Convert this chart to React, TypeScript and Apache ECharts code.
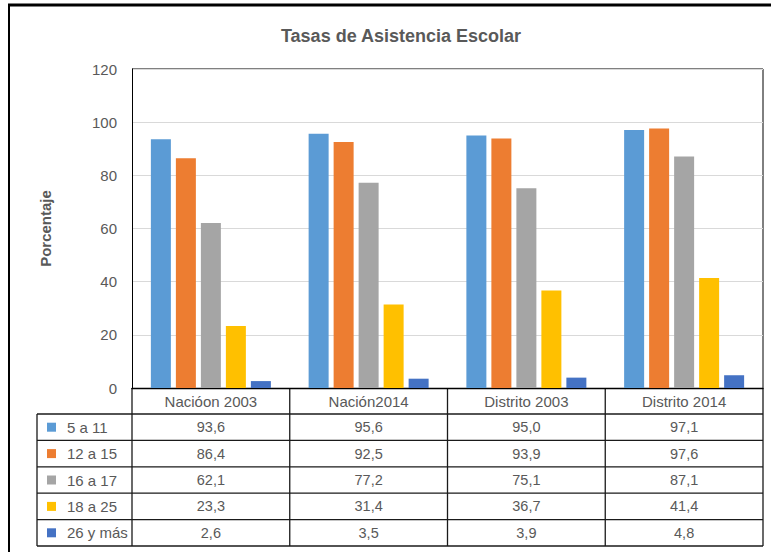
import React, { useEffect, useRef } from "react";
import * as echarts from "echarts";

const categories = ["Nacióon 2003", "Nación2014", "Distrito 2003", "Distrito 2014"];
const seriesNames = ["5 a 11", "12 a 15", "16 a 17", "18 a 25", "26 y más"];
const s5a11 = [93.6, 95.6, 95.0, 97.1];
const s12a15 = [86.4, 92.5, 93.9, 97.6];
const s16a17 = [62.1, 77.2, 75.1, 87.1];
const s18a25 = [23.3, 31.4, 36.7, 41.4];
const s26mas = [2.6, 3.5, 3.9, 4.8];
const seriesValues = [s5a11, s12a15, s16a17, s18a25, s26mas];
const colors = ["#5B9BD5", "#ED7D31", "#A5A5A5", "#FFC000", "#4472C4"];
const yTicks = [0, 20, 40, 60, 80, 100, 120];

const FONT = "'Liberation Sans', 'DejaVu Sans', sans-serif";
const TEXT = "#595959";

export default function App() {
  const ref = useRef<HTMLDivElement>(null);
  useEffect(() => {
    document.body.style.margin = "0";
    const chart = echarts.init(ref.current!, undefined, { renderer: "svg" });
    const gl = 132, gt = 69, gw = 631, gh = 319;
    const gr = gl + gw, gb = gt + gh;
    const tableLeft = 37;
    const headerBottom = 414;
    const rowH = 26.4;
    const tableBottom = headerBottom + rowH * seriesNames.length;
    const colW = gw / categories.length;
    const lineStyle = { stroke: "#1a1a1a", lineWidth: 1.3 };
    const g: any[] = [];
    // outer frame (partial, cropped)
    g.push({ type: "line", shape: { x1: 8, y1: 5, x2: 771, y2: 5 }, style: { stroke: "#000", lineWidth: 3 } });
    g.push({ type: "line", shape: { x1: 9, y1: 4, x2: 9, y2: 552 }, style: { stroke: "#000", lineWidth: 2 } });
    // plot border top & right
    g.push({ type: "line", shape: { x1: gl, y1: gt, x2: gr, y2: gt }, style: { stroke: "#000", lineWidth: 1 } });
    g.push({ type: "line", shape: { x1: gr, y1: gt, x2: gr, y2: gb }, style: { stroke: "#000", lineWidth: 1 } });
    // table horizontal lines
    for (let i = 0; i <= seriesNames.length; i++) {
      const y = headerBottom + rowH * i;
      g.push({ type: "line", shape: { x1: tableLeft, y1: y, x2: gr, y2: y }, style: lineStyle });
    }
    // vertical lines
    g.push({ type: "line", shape: { x1: tableLeft, y1: headerBottom, x2: tableLeft, y2: tableBottom }, style: lineStyle });
    for (let c = 0; c <= categories.length; c++) {
      const x = gl + colW * c;
      g.push({ type: "line", shape: { x1: x, y1: gb, x2: x, y2: tableBottom }, style: lineStyle });
    }
    // rows
    seriesNames.forEach((name, i) => {
      const cy = headerBottom + rowH * i + rowH / 2;
      g.push({ type: "rect", shape: { x: 47, y: cy - 4.5, width: 9, height: 9 }, style: { fill: colors[i] } });
      g.push({ type: "text", x: 67, y: cy, style: { text: name, fill: TEXT, font: `15px ${FONT}`, verticalAlign: "middle" } });
      seriesValues[i].forEach((v, c) => {
        g.push({
          type: "text", x: gl + colW * c + colW / 2, y: cy,
          style: { text: v.toFixed(1).replace(".", ","), fill: TEXT, font: `14.5px ${FONT}`, align: "center", verticalAlign: "middle" },
        });
      });
    });
    chart.setOption({
      animation: false,
      title: {
        text: "Tasas de Asistencia Escolar",
        left: 396, top: 22, textAlign: "center",
        textStyle: { fontFamily: FONT, fontWeight: "bold", fontSize: 18, color: TEXT },
      },
      grid: { left: gl, top: gt, width: gw, height: gh },
      xAxis: {
        type: "category", data: categories,
        axisLine: { lineStyle: { color: "#000", width: 1.3 } },
        axisTick: { show: false },
        axisLabel: { color: TEXT, fontFamily: FONT, fontSize: 15, margin: 6 },
      },
      yAxis: {
        type: "value", min: 0, max: 120, interval: 20,
        name: "Porcentaje", nameLocation: "middle", nameGap: 79,
        nameTextStyle: { fontFamily: FONT, fontWeight: "bold", fontSize: 15, color: TEXT },
        axisLine: { show: true, lineStyle: { color: "#000", width: 1 } },
        axisLabel: { color: TEXT, fontFamily: FONT, fontSize: 15, margin: 15, formatter: (v: number) => (yTicks.includes(v) ? String(v) : "") },
        splitLine: { lineStyle: { color: "#D9D9D9", width: 1 } },
      },
      series: seriesNames.map((name, i) => ({
        name, type: "bar", data: seriesValues[i], barWidth: 20, barGap: "25%",
        itemStyle: { color: colors[i] },
      })),
      graphic: g,
    });
    return () => chart.dispose();
  }, []);
  return <div ref={ref} style={{ width: 771, height: 552 }} />;
}
